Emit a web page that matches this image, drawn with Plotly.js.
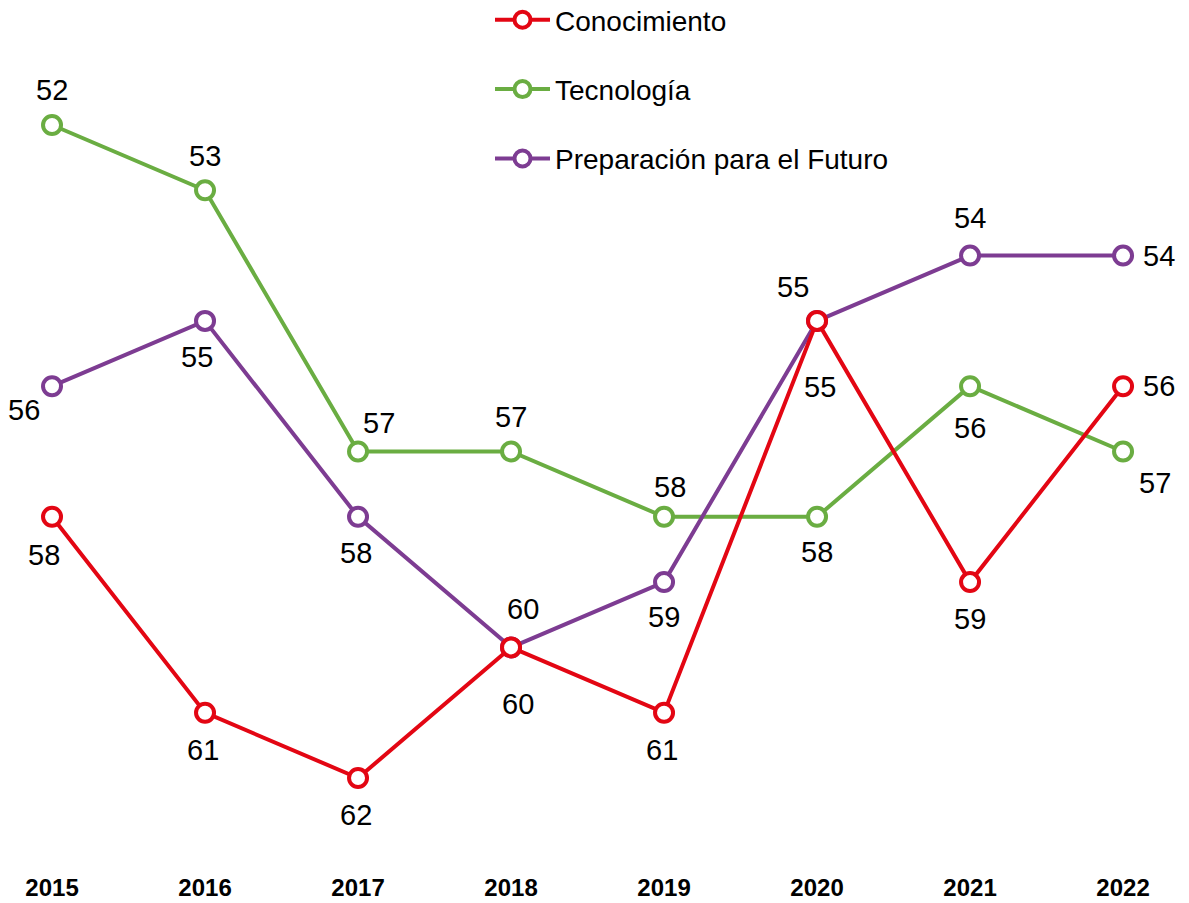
<!DOCTYPE html>
<html>
<head>
<meta charset="utf-8">
<script src="https://cdn.plot.ly/plotly-3.0.1.min.js"></script>
<style>html,body{margin:0;padding:0;background:#fff}#chart{width:1189px;height:903px}</style>
</head>
<body>
<div id="chart"></div>
<script>
// ---- data ----
const years = [2015, 2016, 2017, 2018, 2019, 2020, 2021, 2022];
const seriesNames = ["Conocimiento", "Tecnología", "Preparación para el Futuro"];
const conocimiento = [58, 61, 62, 60, 61, 55, 59, 56];
const tecnologia = [52, 53, 57, 57, 58, 58, 56, 57];
const preparacion = [56, 55, 58, 60, 59, 55, 54, 54];

// ---- styles ----
const colors = ["#e30613", "#6aad42", "#7d3c92"];
// label offsets in px (dx right, dy down)
const offsConocimiento = [[-8,38],[-2,37],[-2,37],[7,57],[-2,37],[3,66],[0,37],[36,0]];
const offsTecnologia   = [[0,-35],[0,-34],[21,-28],[0,-34],[6,-30],[0,35],[0,42],[32,32]];
const offsPreparacion  = [[-28,24],[-8,36],[-2,36],[12,-38],[0,35],[-24,-34],[0,-38],[36,0]];

const FONT = "Liberation Sans, Arial, sans-serif";

function trace(name, ys, color, rank) {
  return {
    type: "scatter", mode: "lines+markers", name: name, x: years, y: ys,
    line: {color: color, width: 4},
    marker: {symbol: "circle", size: 18, color: "#ffffff", line: {color: color, width: 4}},
    legendgroup: name, legendrank: rank, hoverinfo: "skip", cliponaxis: false
  };
}

const data = [
  trace(seriesNames[1], tecnologia, colors[1], 2),
  trace(seriesNames[2], preparacion, colors[2], 3),
  trace(seriesNames[0], conocimiento, colors[0], 1)
];

const annotations = [];
function addLabels(ys, offs) {
  ys.forEach((v, i) => {
    annotations.push({
      x: years[i], y: v, xref: "x", yref: "y", text: String(v), showarrow: false,
      xshift: offs[i][0], yshift: -offs[i][1],
      font: {family: FONT, size: 29, color: "#000"}
    });
  });
}
addLabels(conocimiento, offsConocimiento);
addLabels(tecnologia, offsTecnologia);
addLabels(preparacion, offsPreparacion);

const layout = {
  width: 1189, height: 903,
  margin: {l: 0, r: 0, t: 0, b: 43, autoexpand: false},
  paper_bgcolor: "#fff", plot_bgcolor: "#fff",
  showlegend: true,
  legend: {
    x: 490/1189, y: 1 + 5/860, xanchor: "left", yanchor: "top",
    font: {family: FONT, size: 28, color: "#000"},
    traceorder: "grouped", tracegroupgap: 30, bgcolor: "rgba(0,0,0,0)",
    itemwidth: 55
  },
  xaxis: {
    range: [2014.66, 2022.431], tickvals: years, ticktext: years.map(String),
    showgrid: false, zeroline: false, showline: false, ticks: "",
    ticklabelstandoff: 11, automargin: false,
    tickfont: {family: FONT, size: 24, color: "#000", weight: "bold"},
    fixedrange: true
  },
  yaxis: {range: [63.256, 50.086], visible: false, fixedrange: true, automargin: false},
  annotations: annotations,
  font: {family: FONT}
};

Plotly.newPlot("chart", data, layout, {displayModeBar: false, staticPlot: true});
</script>
</body>
</html>
